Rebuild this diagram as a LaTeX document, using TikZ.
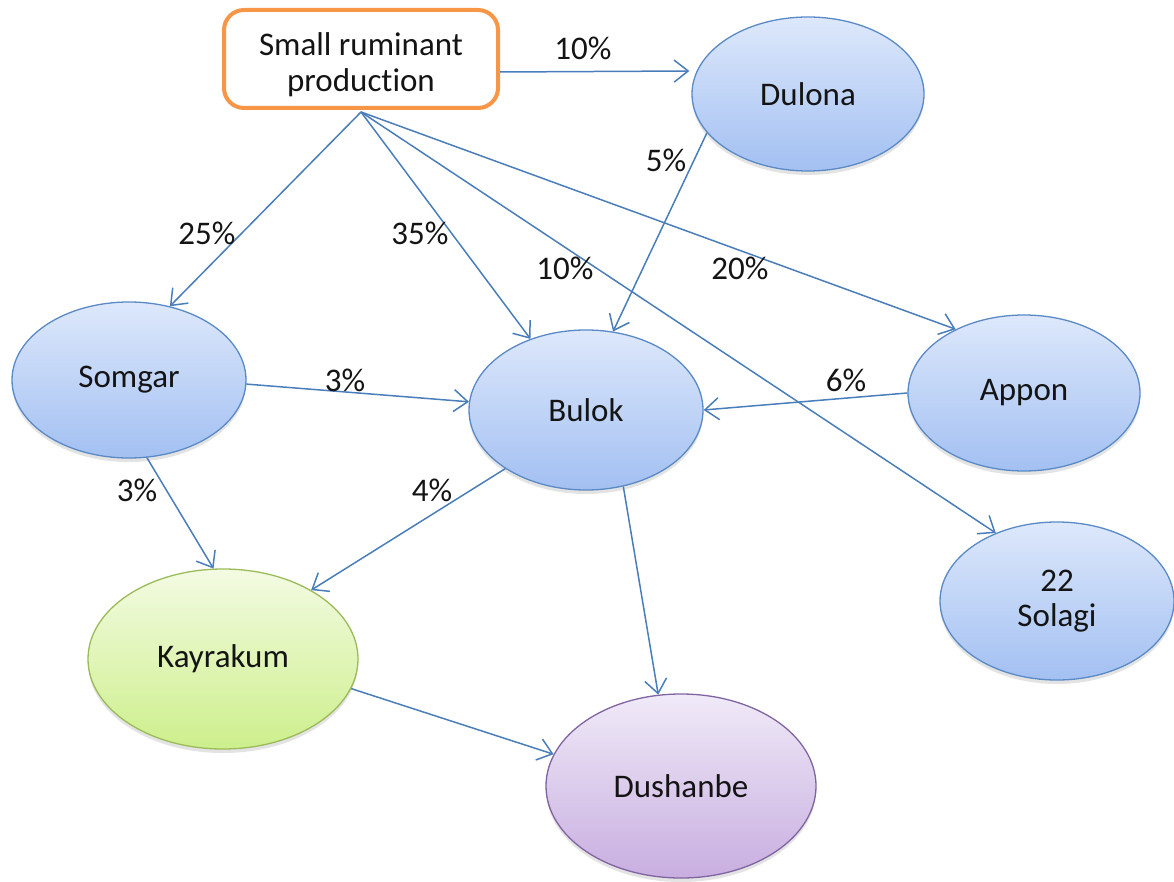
\documentclass[tikz,border=0pt]{standalone}
\usepackage{fontspec}
\setmainfont[Ligatures=NoCommon]{Carlito}
\usetikzlibrary{arrows.meta,shapes.geometric,shadows}
\definecolor{edgeblue}{HTML}{4A7EBB}
\definecolor{bluetop}{HTML}{DDE8FB}
\definecolor{bluebot}{HTML}{A3C0F2}
\definecolor{blueline}{HTML}{5A8AC6}
\definecolor{greentop}{HTML}{F3FBE2}
\definecolor{greenbot}{HTML}{CDEF8C}
\definecolor{greenline}{HTML}{9BBB59}
\definecolor{purtop}{HTML}{F0EAF8}
\definecolor{purbot}{HTML}{C8AEE0}
\definecolor{purline}{HTML}{8064A2}
\definecolor{boxorange}{HTML}{F79646}
\definecolor{txt}{HTML}{141414}
\tikzset{
  every node/.style={font=\fontsize{33}{35}\selectfont, text=txt},
  ell/.style={ellipse, inner sep=0pt, line width=1.3pt, align=center,
    drop shadow={opacity=0.22, shadow xshift=0pt, shadow yshift=-4pt}},
  blueell/.style={ell, draw=blueline, top color=bluetop, bottom color=bluebot},
  greenell/.style={ell, draw=greenline, top color=greentop, bottom color=greenbot},
  purell/.style={ell, draw=purline, top color=purtop, bottom color=purbot},
  srcbox/.style={draw=boxorange, line width=4pt, rounded corners=20pt, fill=white,
    minimum width=274pt, minimum height=98pt, inner sep=0pt},
  srctext/.style={align=center, inner sep=0pt, font=\fontsize{33}{36}\selectfont},
  arr/.style={draw=edgeblue, line width=1.5pt,
    -{Straight Barb[length=14pt,width=22pt,line width=1.5pt]}},
  pct/.style={inner sep=0pt}
}
\begin{document}
\begin{tikzpicture}[x=1pt,y=-1pt]
\useasboundingbox (0,0) rectangle (1174,882);
% nodes
\node[srcbox] (srp) at (361,59) {};
\node[srctext] (srptext) at (361,65) {Small ruminant\\production};
\node[blueell, minimum width=232pt, minimum height=154pt] (dulona) at (808,94) {Dulona};
\node[blueell, minimum width=234pt, minimum height=156pt] (somgar) at (129,380) {Somgar};
\node[blueell, minimum width=234pt, minimum height=160pt] (bulok) at (586,410) {Bulok};
\node[blueell, minimum width=232pt, minimum height=156pt] (appon) at (1024,393) {Appon};
\node[blueell, minimum width=234pt, minimum height=158pt] (solagi) at (1057,601) {22\\Solagi};
\node[greenell, minimum width=270pt, minimum height=180pt] (kay) at (223,659) {Kayrakum};
\node[purell, minimum width=270pt, minimum height=184pt] (dush) at (681,786) {Dushanbe};
% edges
\coordinate (srpb) at ([yshift=-2pt]srp.south);
\draw[arr] ([yshift=-13pt]srp.east) -- ([yshift=23pt,xshift=-2pt]dulona.west);
\draw[arr] (srpb) -- (somgar.61);
\draw[arr] (srpb) -- (bulok.128);
\draw[arr] (srpb) -- (solagi.132);
\draw[arr] (srpb) -- (appon.137);
\draw[arr] (dulona.201) -- (bulok.71);
\draw[arr] (somgar.358) -- (bulok.176);
\draw[arr] (appon.west) -- (bulok.east);
\draw[arr] (somgar.-77) -- (kay.96);
\draw[arr] (bulok.216) -- (kay.38);
\draw[arr] (bulok.-64) -- (dush.104);
\draw[arr] (kay.-13) -- (dush.166);
% labels
\node[pct] (l1) at (583,48) {10\%};
\node[pct] (l2) at (207,233) {25\%};
\node[pct] (l3) at (420,233) {35\%};
\node[pct] (l4) at (565,268) {10\%};
\node[pct] (l5) at (740,268) {20\%};
\node[pct] (l6) at (666,160) {5\%};
\node[pct] (l7) at (345,380) {3\%};
\node[pct] (l8) at (846,380) {6\%};
\node[pct] (l9) at (137,490) {3\%};
\node[pct] (l10) at (432,490) {4\%};
\end{tikzpicture}
\end{document}
